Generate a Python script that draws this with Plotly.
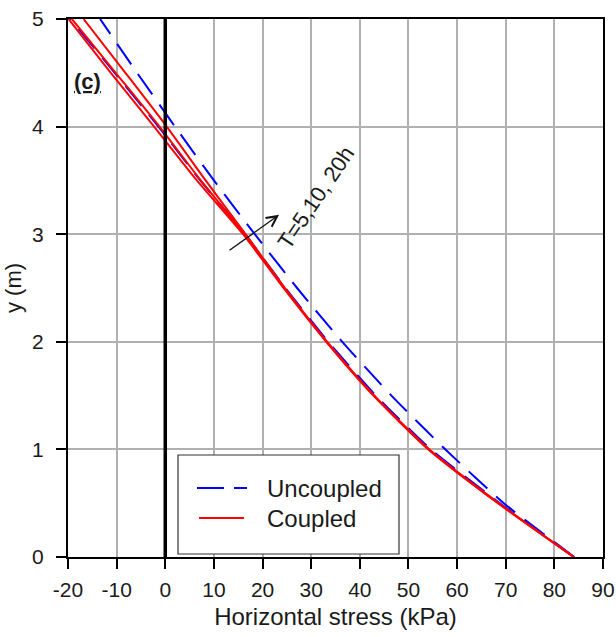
import plotly.graph_objects as go

# ---- data ----
y_levels = [0.0, 0.5, 1.0, 1.5, 2.0, 2.5, 3.0, 3.5, 4.0, 4.5, 5.0]
uncoupled_main = [84.1, 69.6, 57.6, 46.5, 36.4, 27.1, 18.4, 10.0, 2.0, -5.8, -13.4]
uncoupled_alt = [84.0, 68.8, 54.6, 43.3, 33.5, 24.7, 16.4, 7.2, -1.4, -10.4, -19.5]
coupled_5h = [84.0, 68.6, 54.3, 43.0, 33.3, 24.6, 16.5, 8.3, 0.3, -8.2, -16.8]
coupled_10h = [84.0, 68.5, 54.2, 42.9, 33.2, 24.5, 16.3, 7.3, -1.2, -10.2, -19.2]
coupled_20h = [84.0, 68.4, 54.1, 42.8, 33.1, 24.3, 16.0, 6.5, -2.3, -11.2, -19.9]
zero_line_x = [0, 0]
zero_line_y = [0, 5]
x_ticks = [-20, -10, 0, 10, 20, 30, 40, 50, 60, 70, 80, 90]
y_ticks = [0, 1, 2, 3, 4, 5]
arrow_tail = (12.9, 2.84)
arrow_head = (23.4, 3.18)

FONT = "Liberation Sans, Arial, sans-serif"
TXT = "#1a1a1a"
BLUE = "#0000ff"
RED = "#ff0000"
DASH = "25px,12px"

fig = go.Figure()
fig.add_trace(go.Scatter(x=uncoupled_alt, y=y_levels, mode="lines",
                         line=dict(color=BLUE, width=2, dash=DASH, shape="spline", smoothing=0.6),
                         showlegend=False, hoverinfo="skip"))
fig.add_trace(go.Scatter(x=uncoupled_main, y=y_levels, mode="lines", name="Uncoupled",
                         line=dict(color=BLUE, width=2, dash=DASH, shape="spline", smoothing=0.6),
                         showlegend=False))
for nm, xs in [("Coupled T=5h", coupled_5h), ("Coupled T=10h", coupled_10h), ("Coupled T=20h", coupled_20h)]:
    fig.add_trace(go.Scatter(x=xs, y=y_levels, mode="lines", name=nm,
                             line=dict(color=RED, width=2, shape="spline", smoothing=0.6),
                             showlegend=False))
fig.add_trace(go.Scatter(x=zero_line_x, y=zero_line_y, mode="lines",
                         line=dict(color="black", width=3.5), showlegend=False, hoverinfo="skip"))

# arrow and labels
fig.add_annotation(x=arrow_head[0], y=arrow_head[1], ax=arrow_tail[0], ay=arrow_tail[1],
                   xref="x", yref="y", axref="x", ayref="y", text="", showarrow=True,
                   arrowhead=5, arrowsize=1.6, arrowwidth=1.3, arrowcolor="#111111")
fig.add_annotation(x=31.0, y=3.34, xref="x", yref="y", text="T=5,10, 20h", showarrow=False,
                   textangle=-56, font=dict(family=FONT, size=22, color=TXT))
fig.add_annotation(x=-15.9, y=4.42, xref="x", yref="y", text="<u><b>(c)</b></u>", showarrow=False,
                   font=dict(family=FONT, size=22, color=TXT))

# manual legend box (paper coordinates)
L, R, T, B = 68, 603, 19, 557
def px(xp):
    return (xp - L) / (R - L)
def py(yp):
    return (B - yp) / (B - T)

fig.add_shape(type="rect", xref="paper", yref="paper", x0=px(178), x1=px(399), y0=py(554), y1=py(455),
              line=dict(color="#333333", width=1.2), fillcolor="white", layer="above")
fig.add_shape(type="line", xref="paper", yref="paper", x0=px(197), x1=px(247), y0=py(488), y1=py(488),
              line=dict(color=BLUE, width=2, dash="27px,10px"), layer="above")
fig.add_shape(type="line", xref="paper", yref="paper", x0=px(199), x1=px(244), y0=py(518), y1=py(518),
              line=dict(color=RED, width=2), layer="above")
fig.add_annotation(x=px(265), y=py(488), xref="paper", yref="paper", text="Uncoupled",
                   showarrow=False, xanchor="left", yanchor="middle",
                   font=dict(family=FONT, size=24, color=TXT))
fig.add_annotation(x=px(265), y=py(518), xref="paper", yref="paper", text="Coupled",
                   showarrow=False, xanchor="left", yanchor="middle",
                   font=dict(family=FONT, size=24, color=TXT))

axis_common = dict(showgrid=True, gridcolor="#b0b0b0", gridwidth=1.5,
                   showline=True, linecolor="black", linewidth=2, mirror=True,
                   ticks="outside", ticklen=10, tickwidth=2, tickcolor="black",
                   tickfont=dict(family=FONT, size=21, color=TXT), zeroline=False,
                   automargin=False)

fig.update_xaxes(range=[-20, 90], tickvals=x_ticks, ticktext=[str(v) for v in x_ticks],
                 title=dict(text="Horizontal stress (kPa)", font=dict(family=FONT, size=24, color=TXT), standoff=8),
                 ticklabelstandoff=3, **axis_common)
fig.update_yaxes(range=[0, 5], tickvals=y_ticks, ticktext=[str(v) for v in y_ticks],
                 title=dict(text="y (m)", font=dict(family=FONT, size=22, color=TXT), standoff=4),
                 ticklabelstandoff=8, **axis_common)

fig.update_layout(width=616, height=637, margin=dict(l=68, r=13, t=19, b=80),
                  plot_bgcolor="white", paper_bgcolor="white", showlegend=False,
                  font=dict(family=FONT, color=TXT))

fig.write_html("out.html")
